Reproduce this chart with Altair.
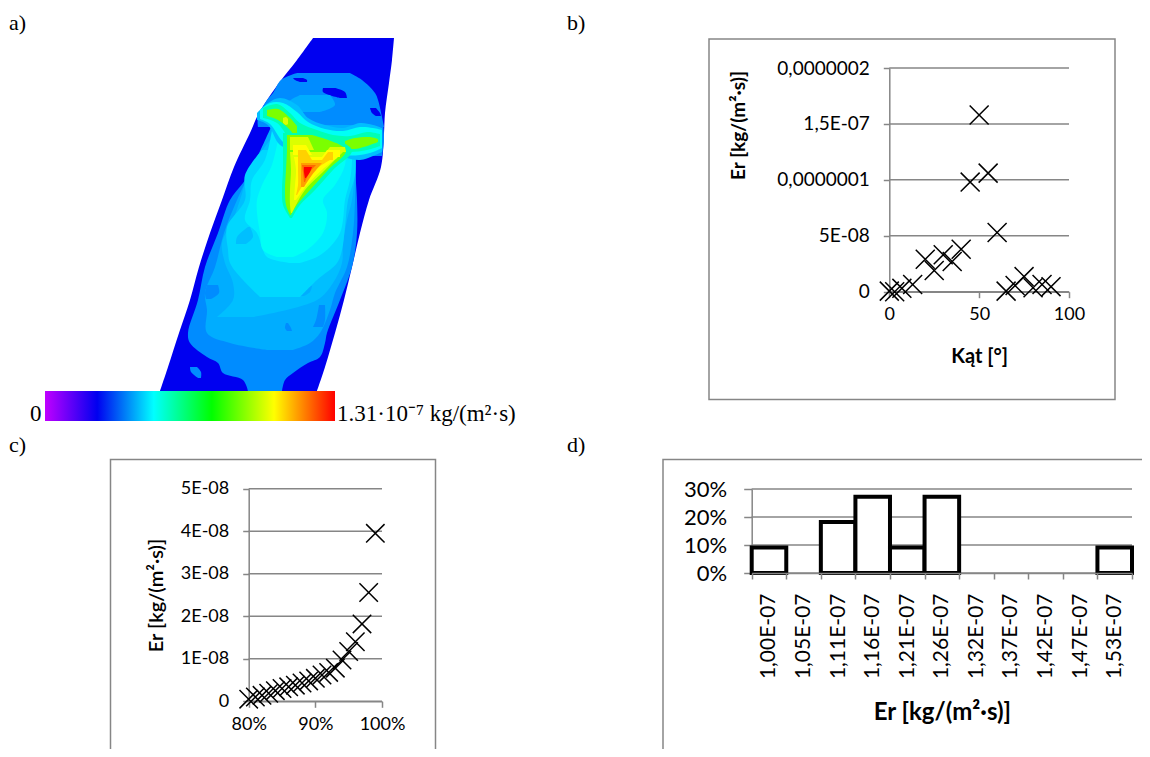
import altair as alt
import pandas as pd

W, H = 1134, 741
GRAY = "#868686"
FONT = "Lato"
SERIF = "Liberation Serif"

# ---------- panel b ----------
B_ANGLE = [0, 3, 7, 13, 20, 25, 30, 35, 40, 45, 50, 55, 60, 65, 70, 75, 80, 85, 90]
B_ER = [0.05, 0, 0.3, 0.65, 2.9, 1.9, 3.3, 2.7, 3.8, 9.8, 15.8, 10.6, 5.3, 0.05, 0.55, 1.35, 0.35, 0.65, 0.45]
B_TICKS = [0, 5, 10, 15, 20]
B_LABELS = ["0", "5E-08", "0,0000001", "1,5E-07", "0,0000002"]

# ---------- panel c ----------
C_PCT = list(range(80, 100))
C_ER = [0.05, 0.1, 0.14, 0.19, 0.25, 0.3, 0.34, 0.38, 0.43, 0.48, 0.54, 0.62, 0.68, 0.78, 0.97, 1.17, 1.4, 1.82, 2.56, 3.95]
C_TICKS = [0, 1, 2, 3, 4, 5]
C_LABELS = ["0", "1E-08", "2E-08", "3E-08", "4E-08", "5E-08"]

# ---------- panel d ----------
D_BINS = ["1,00E-07", "1,05E-07", "1,11E-07", "1,16E-07", "1,21E-07", "1,26E-07",
          "1,32E-07", "1,37E-07", "1,42E-07", "1,47E-07", "1,53E-07"]
D_SHARE = [9.09, 0, 18.18, 27.27, 9.09, 27.27, 0, 0, 0, 0, 9.09]

# ---------- panel a: contour levels, (id, level, rows, left edge, right edge) ----------
L0, L1, L2, L3, L4, L5, L6, L7 = 0.262, 0.354, 0.392, 0.413, 0.444, 0.472, 0.522, 0.629
L8, L9, L10, L11, L12, L13, L14 = 0.822, 0.947, 1.009, 1.084, 1.16, 1.235, 1.31

BODY_LOW = [
    ("blade", L0, [38, 60, 83, 113, 133, 167, 200, 233, 267, 300, 333, 367, 391],
     [313, 297, 279, 259, 250, 234, 222, 210, 199, 190, 179, 168, 160],
     [394, 392, 389, 385, 384, 381, 369, 360, 352, 344, 335, 325, 317]),
    ("dome", L1, [73, 80, 93, 100, 117, 127], [297, 281, 273, 267, 258, 258], [350, 362, 375, 378, 382, 384]),
    ("s1", L0, [88, 92, 98], [323, 323, 340], [335, 345, 347]),
    ("s2", L0, [78, 80, 82], [293, 295, 300], [303, 307, 307]),
    ("s3", L0, [108, 113, 116], [370, 372, 376], [376, 380, 381]),
    ("s4", L2, [95, 105, 112], [300, 285, 295], [330, 335, 320]),
    ("mid", L1, [123, 140, 156], [272, 272, 262], [383, 384, 382]),
    ("low", L1, [156, 167, 183, 200, 233, 267, 300, 333, 343, 357, 363, 373, 380, 391],
     [262, 254, 243, 230, 218, 205, 198, 188, 190, 207, 218, 223, 243, 248],
     [355, 355, 356, 357, 357, 352, 340, 327, 325, 320, 308, 293, 285, 282]),
    ("spot", L1, [367, 372, 378], [190, 191, 198], [197, 201, 201]),
    ("l2", L2, [125, 160, 200, 233, 267, 293, 310, 333, 343, 350],
     [272, 256, 237, 224, 215, 205, 207, 207, 230, 267],
     [355, 356, 355, 353, 347, 335, 330, 320, 310, 293]),
    ("p1", L1, [285, 293, 299], [207, 205, 206], [218, 219, 211]),
    ("p2", L1, [305, 320, 327], [319, 316, 313], [325, 325, 323]),
    ("p3", L1, [323, 328, 331], [286, 285, 287], [288, 291, 292]),
    ("l3", L3, [140, 170, 200, 220, 243, 263, 283, 300, 317],
     [270, 250, 240, 233, 222, 225, 233, 233, 217],
     [355, 355, 352, 347, 343, 342, 333, 317, 253]),
    ("p4", L2, [286, 292, 296], [303, 300, 300], [312, 310, 304]),
    ("l4", L4, [150, 175, 200, 227, 250, 263, 280, 297],
     [262, 245, 245, 227, 228, 230, 243, 260],
     [355, 355, 348, 345, 342, 337, 317, 300]),
    ("p5", L3, [227, 237, 244], [248, 237, 236], [250, 253, 246]),
    ("l5", L5, [130, 160, 180, 200, 220, 233, 247, 257, 263],
     [272, 265, 252, 250, 245, 257, 262, 267, 290],
     [350, 352, 350, 345, 343, 340, 330, 317, 300]),
    ("l6", L6, [140, 165, 185, 200, 213, 233, 250, 257],
     [278, 272, 262, 257, 257, 260, 263, 277],
     [345, 345, 335, 323, 327, 323, 307, 293]),
]
BAND = [
    ("b1", L3, [257, 268, 280, 297, 308, 325, 343, 360, 373, 382],
     [113, 103, 98, 105, 118, 125, 128, 123, 125, 128],
     [120, 125, 145, 150, 150, 150, 157, 160, 156, 152]),
    ("b2", L6, [260, 270, 283, 297, 308, 325, 343, 360, 373, 382],
     [110, 103, 103, 112, 122, 129, 131, 127, 128, 130],
     [119, 124, 142, 150, 150, 150, 155, 155, 152, 148]),
    ("b3", L7, [263, 277, 290, 300, 317, 333, 350, 367, 380],
     [108, 104, 113, 123, 130, 135, 136, 132, 134],
     [118, 123, 140, 150, 150, 150, 152, 150, 146]),
    ("b4", L8, [267, 278, 290, 297], [110, 109, 118, 126], [116, 120, 130, 140]),
    ("b5", L8, [345, 355, 370, 378], [141, 138, 137, 139], [148, 149, 145, 142]),
    ("b6", L9, [283, 286, 288], [118, 117, 119], [123, 125, 124]),
]
BODY_HIGH = [
    ("v7", L7, [133, 150, 170, 190, 205, 218],
     [283, 283, 283, 282, 283, 290], [320, 352, 333, 315, 300, 292]),
    ("v8", L8, [135, 150, 170, 190, 205, 215],
     [287, 287, 286, 285, 286, 290], [312, 346, 328, 310, 297, 291]),
    ("v9a", L9, [137, 150], [290, 290], [308, 314]),
    ("v9b", L9, [147, 152], [330, 326], [345, 346]),
    ("v9", L9, [152, 170, 190, 205, 213], [290, 291, 290, 290, 291], [343, 325, 305, 296, 292]),
    ("v10a", L10, [145, 155], [293, 293], [306, 312]),
    ("v10b", L10, [150, 157], [327, 322], [340, 340]),
    ("v10", L10, [157, 170, 185, 200], [294, 296, 295, 294], [338, 322, 307, 296]),
    ("v11a", L11, [150, 160], [298, 298], [306, 312]),
    ("v11b", L11, [152, 160], [328, 322], [333, 333]),
    ("v11", L11, [160, 170, 185, 195], [298, 298, 298, 296], [330, 315, 303, 297]),
    ("v12", L12, [163, 175, 187], [301, 301, 301], [322, 312, 304]),
    ("v13", L13, [165, 172, 182], [302, 303, 304], [316, 310, 305]),
    ("v14", L14, [167, 172, 178], [304, 304, 305], [312, 310, 306]),
]
LEVEL_STOPS = [0, 0.262, 0.498, 0.76, 1.009, 1.31]
LEVEL_COLORS = ["#c000ff", "#0000f0", "#00ffff", "#00ff00", "#ffff00", "#ff0000"]
BAR_STOPS = [0, 0.18, 0.375, 0.575, 0.79, 1]

PANEL_TAGS = ["a)", "b)", "c)", "d)"]
TAG_X = [9, 567, 9, 567]
TAG_Y = [30, 30, 452, 452]


def long_table(series, key):
    rows = []
    for name, level, a, lo, hi in series:
        for p, q, r in zip(a, lo, hi):
            rows.append({"id": name, "level": level, key: p, "lo": q, "hi": r})
    return pd.DataFrame(rows)


# scales
page_x = alt.Scale(domain=[0, 1150], range=[-8, 1142], nice=False, zero=False)
page_y = alt.Scale(domain=[0, 757], range=[-8, 749], nice=False, zero=False)
level_color = alt.Color("level:Q", legend=None, scale=alt.Scale(domain=LEVEL_STOPS, range=LEVEL_COLORS))

bx = alt.Scale(domain=[0, 100], range=[881.3, 1061], nice=False, zero=False)
by = alt.Scale(domain=[0, 20], range=[283.7, 60], nice=False, zero=False)
cx = alt.Scale(domain=[80, 100], range=[240.7, 374], nice=False, zero=False)
cy = alt.Scale(domain=[0, 5], range=[693.3, 480.7], nice=False, zero=False)
dx = alt.Scale(domain=D_BINS, range=[743.7, 1124], paddingInner=0, paddingOuter=0)
dy = alt.Scale(domain=[0, 30], range=[565, 481], nice=False, zero=False)


def expr(labels, step=1, start=0):
    items = ",".join("'%s'" % s for s in labels)
    return "[%s][round((datum.value-%s)/%s)]" % (items, start, step)


def axis_style(**kw):
    base = dict(grid=False, domainColor=GRAY, domainWidth=1.5, tickColor=GRAY, tickWidth=1.5,
                labelFont=FONT, labelColor="#000000", titleFont=FONT, titleColor="#000000",
                labelFlush=False)
    base.update(kw)
    return alt.Axis(**base)


layers = []

# --- frames
frames = pd.DataFrame({"x": [709, 110.5, 663], "x2": [1115, 435.5, 1190],
                       "y": [39, 459.5, 459.5], "y2": [399.5, 790, 790]})
layers.append(alt.Chart(frames).mark_rect(fillOpacity=0, stroke=GRAY, strokeWidth=1.5).encode(
    x=alt.X("x:Q", scale=page_x, axis=None), x2="x2:Q",
    y=alt.Y("y:Q", scale=page_y, axis=None), y2="y2:Q"))

# --- panel a
layers.append(alt.Chart(long_table(BODY_LOW, "row")).mark_area(orient="horizontal", interpolate="catmull-rom").encode(
    y=alt.Y("row:Q", scale=page_y, axis=None), x=alt.X("lo:Q", scale=page_x, axis=None), x2="hi:Q",
    color=level_color, detail="id:N"))
layers.append(alt.Chart(long_table(BAND, "col")).mark_area(orient="vertical", interpolate="catmull-rom").encode(
    x=alt.X("col:Q", scale=page_x, axis=None), y=alt.Y("lo:Q", scale=page_y, axis=None), y2="hi:Q",
    color=level_color, detail="id:N"))
layers.append(alt.Chart(long_table(BODY_HIGH, "row")).mark_area(orient="horizontal", interpolate="catmull-rom").encode(
    y=alt.Y("row:Q", scale=page_y, axis=None), x=alt.X("lo:Q", scale=page_x, axis=None), x2="hi:Q",
    color=level_color, detail="id:N"))

# colour bar
bar = pd.DataFrame({"x": [45], "x2": [335], "y": [391], "y2": [421]})
gradient = alt.Gradient(gradient="linear", x1=0, x2=1, y1=0, y2=0,
                        stops=[alt.GradientStop(color=c, offset=o) for c, o in zip(LEVEL_COLORS, BAR_STOPS)])
layers.append(alt.Chart(bar).mark_rect(color=gradient).encode(
    x=alt.X("x:Q", scale=page_x, axis=None), x2="x2:Q",
    y=alt.Y("y:Q", scale=page_y, axis=None), y2="y2:Q"))
bar_text = pd.DataFrame({"x": [30, 337], "y": [421, 421], "t": ["0", "1.31·10⁻⁷ kg/(m²·s)"]})
layers.append(alt.Chart(bar_text).mark_text(font=SERIF, fontSize=23, align="left", baseline="alphabetic", color="#000000").encode(
    x=alt.X("x:Q", scale=page_x, axis=None), y=alt.Y("y:Q", scale=page_y, axis=None), text="t:N"))

# panel tags
tags = pd.DataFrame({"x": TAG_X, "y": TAG_Y, "t": PANEL_TAGS})
layers.append(alt.Chart(tags).mark_text(font=SERIF, fontSize=22, align="left", baseline="alphabetic", color="#000000").encode(
    x=alt.X("x:Q", scale=page_x, axis=None), y=alt.Y("y:Q", scale=page_y, axis=None), text="t:N"))

CROSS = "M-1,-1L1,1M-1,1L1,-1"


def grid(ticks, scale_x, x0, x1, scale_y):
    df = pd.DataFrame({"v": ticks, "a": x0, "b": x1})
    return alt.Chart(df).mark_rule(color=GRAY, strokeWidth=1.5).encode(
        y=alt.Y("v:Q", scale=scale_y, axis=None),
        x=alt.X("a:Q", scale=scale_x, axis=None), x2="b:Q")


# --- panel b
layers.append(grid(B_TICKS, bx, 0, 100, by))
layers.append(alt.Chart(pd.DataFrame({"x": B_ANGLE, "y": B_ER})).mark_point(
    shape=CROSS, size=360, filled=False, color="#000000", strokeWidth=1.5, opacity=1).encode(
    x=alt.X("x:Q", scale=bx, axis=axis_style(
        orient="bottom", values=[0, 50, 100], title="Kąt [°]", offset=283.7 - H, tickSize=6, labelPadding=8,
        labelFontSize=18, titleFontSize=20, titleFontWeight="bold", titleY=55)),
    y=alt.Y("y:Q", scale=by, axis=axis_style(
        orient="left", values=B_TICKS, title="Er [kg/(m²·s)]", offset=-881.3, tickSize=6, labelPadding=14,
        labelExpr=expr(B_LABELS, 5), labelFontSize=19, titleFontSize=19, titleFontWeight="bold",
        titleX=-141, titleY=117))))

# --- panel c
layers.append(grid(C_TICKS, cx, 80, 100, cy))
layers.append(alt.Chart(pd.DataFrame({"x": C_PCT, "y": C_ER})).mark_point(
    shape=CROSS, size=340, filled=False, color="#000000", strokeWidth=1.5, opacity=1).encode(
    x=alt.X("x:Q", scale=cx, axis=axis_style(
        orient="bottom", values=[80, 90, 100], title=None, offset=693.3 - H, tickSize=6, labelPadding=8,
        labelExpr="datum.value + '%'", labelFontSize=18)),
    y=alt.Y("y:Q", scale=cy, axis=axis_style(
        orient="left", values=C_TICKS, title="Er [kg/(m²·s)]", offset=-240.7, tickSize=6, labelPadding=14,
        labelExpr=expr(C_LABELS), labelFontSize=18, titleFontSize=20, titleFontWeight=600,
        titleX=-82))))

# --- panel d
layers.append(grid([0, 10, 20, 30], alt.Scale(domain=[0, 1], range=[743.7, 1124], nice=False, zero=False), 0, 1, dy))
layers.append(alt.Chart(pd.DataFrame({"bin": D_BINS, "share": D_SHARE})).transform_filter("datum.share > 0").mark_rect(
    fill="#ffffff", stroke="#000000", strokeWidth=4).encode(
    x=alt.X("bin:N", sort=D_BINS, scale=dx, axis=axis_style(
        orient="bottom", title="Er [kg/(m²·s)]", offset=565 - H, tickSize=6, labelPadding=14, labelAngle=270,
        tickBand="extent", labelFontSize=21, titleFontSize=24, titleFontWeight="bold", titleY=127)),
    y=alt.Y("share:Q", scale=dy, axis=axis_style(
        orient="left", values=[0, 10, 20, 30], title=None, offset=-743.7, tickSize=8, labelPadding=17,
        labelExpr="datum.value + '%'", labelFontSize=22)),
    y2=alt.Y2(datum=0)))

chart = alt.layer(*layers).resolve_scale(x="independent", y="independent", color="independent").resolve_axis(
    x="independent", y="independent").properties(
    width=W, height=H, padding=0, autosize=alt.AutoSizeParams(type="none")
).configure_view(stroke=None).configure_axis(labelOverlap=False)

chart.save("out.html", embed_options={"renderer": "svg", "actions": False})
